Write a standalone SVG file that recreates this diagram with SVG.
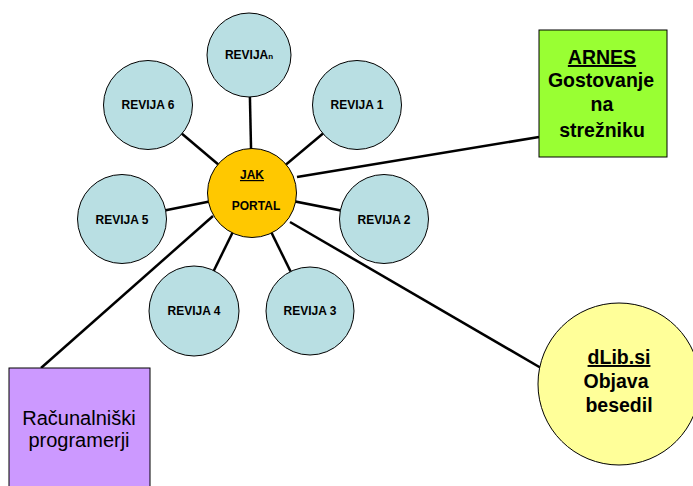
<svg xmlns="http://www.w3.org/2000/svg" width="693" height="486" viewBox="0 0 693 486">
<style>
.rev{fill:#b9dfe3;stroke:#000;stroke-width:1}
.rt{font-family:"Liberation Sans",Arial,sans-serif;font-weight:bold;font-size:12px;text-anchor:middle;fill:#000}
.big{font-family:"Liberation Sans",Arial,sans-serif;font-weight:bold;font-size:19.5px;text-anchor:middle;fill:#000}
.reg{font-family:"Liberation Sans",Arial,sans-serif;font-size:20px;text-anchor:middle;fill:#000}
.ln{stroke:#000;stroke-width:2.5;fill:none}
</style>
<rect width="693" height="486" fill="#fff"/>
<g id="connectors">
<line class="ln" x1="252" y1="193" x2="249" y2="55"/>
<line class="ln" x1="252" y1="193" x2="148" y2="105"/>
<line class="ln" x1="252" y1="193" x2="357" y2="105"/>
<line class="ln" x1="252" y1="193" x2="122" y2="219"/>
<line class="ln" x1="252" y1="193" x2="384" y2="219"/>
<line class="ln" x1="252" y1="193" x2="194" y2="311"/>
<line class="ln" x1="252" y1="193" x2="310" y2="311"/>
<line class="ln" x1="297" y1="177" x2="539" y2="137"/>
<line class="ln" x1="290" y1="222" x2="541" y2="368"/>
<line class="ln" x1="213" y1="216" x2="41" y2="368"/>
</g>
<g id="revijan"><circle class="rev" cx="249" cy="55" r="42"/><text class="rt" x="249" y="59">REVIJA<tspan font-size="8">n</tspan></text></g>
<g id="revija6"><circle class="rev" cx="148" cy="105" r="44.5"/><text class="rt" x="148" y="109">REVIJA 6</text></g>
<g id="revija1"><circle class="rev" cx="357" cy="105" r="44.5"/><text class="rt" x="357" y="109">REVIJA 1</text></g>
<g id="revija5"><circle class="rev" cx="122" cy="219" r="44.5"/><text class="rt" x="122" y="224">REVIJA 5</text></g>
<g id="revija2"><circle class="rev" cx="384" cy="219" r="44.5"/><text class="rt" x="384" y="224">REVIJA 2</text></g>
<g id="revija4"><circle class="rev" cx="194" cy="311" r="45"/><text class="rt" x="194" y="315">REVIJA 4</text></g>
<g id="revija3"><circle class="rev" cx="310" cy="311" r="44"/><text class="rt" x="310" y="315">REVIJA 3</text></g>
<g id="portal"><circle cx="252" cy="193" r="44.5" fill="#ffc800" stroke="#000" stroke-width="1"/>
<text class="rt" x="252" y="179" text-decoration="underline">JAK</text>
<text class="rt" x="256" y="210">PORTAL</text></g>
<g id="arnes"><rect x="539" y="30" width="128" height="127" fill="#99ff33" stroke="#000" stroke-width="1"/>
<text class="big" x="602" y="64" text-decoration="underline">ARNES</text>
<text class="big" x="601" y="87">Gostovanje</text>
<text class="big" x="602" y="111">na</text>
<text class="big" x="602" y="137">strežniku</text></g>
<g id="dlib"><circle cx="619" cy="384" r="81" fill="#ffff99" stroke="#000" stroke-width="1"/>
<text class="big" x="619" y="364" text-decoration="underline">dLib.si</text>
<text class="big" x="616" y="388">Objava</text>
<text class="big" x="619" y="412">besedil</text></g>
<g id="programerji"><rect x="9" y="368" width="141" height="130" fill="#cc99ff" stroke="#000" stroke-width="1"/>
<text class="reg" x="79" y="425">Računalniški</text>
<text class="reg" x="79" y="447">programerji</text></g>
</svg>
